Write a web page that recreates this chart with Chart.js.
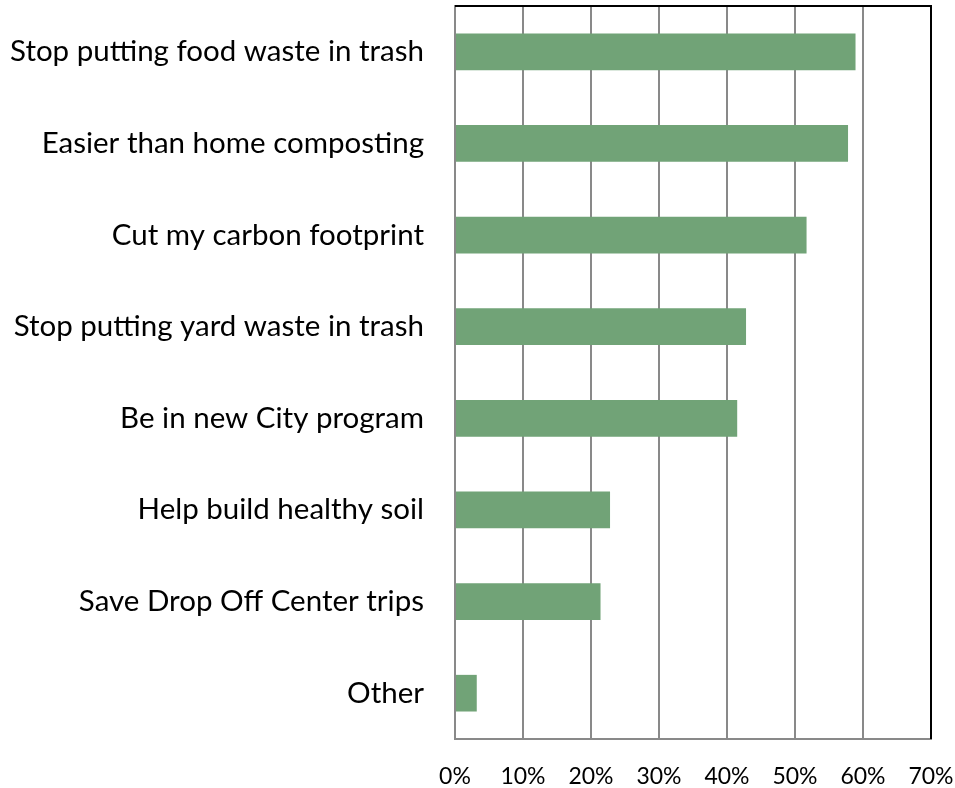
<!DOCTYPE html>
<html>
<head>
<meta charset="utf-8">
<title>Reasons for composting</title>
<script src="https://cdn.jsdelivr.net/npm/chart.js@4.4.1/dist/chart.umd.min.js"></script>
<style>
  html, body { margin: 0; padding: 0; background: #fff; }
  #wrap { width: 955px; height: 788px; position: relative; }
</style>
</head>
<body>
<div id="wrap"><canvas id="myChart"></canvas></div>
<script>
var reasons = [
    'Stop putting food waste in trash',
    'Easier than home composting',
    'Cut my carbon footprint',
    'Stop putting yard waste in trash',
    'Be in new City program',
    'Help build healthy soil',
    'Save Drop Off Center trips',
    'Other'
];
var shares = [58.9, 57.8, 51.7, 42.8, 41.5, 22.8, 21.4, 3.2];
var xTicks = [0, 10, 20, 30, 40, 50, 60, 70];

var gridGray = '#898989';

// black frame line along the top and right of the plot
var frameLines = {
    id: 'frameLines',
    afterDraw: function (chart) {
        var a = chart.chartArea, c = chart.ctx;
        c.save();
        c.strokeStyle = '#000';
        c.lineWidth = 2;
        c.beginPath();
        c.moveTo(a.left, a.top);
        c.lineTo(a.right, a.top);
        c.lineTo(a.right, a.bottom);
        c.stroke();
        c.restore();
    }
};

// no extra room for label overhang, the layout padding handles it
function noOverhang(scale) {
    scale.paddingLeft = 0;
    scale.paddingRight = 0;
    scale.paddingTop = 0;
    scale.paddingBottom = 0;
}

var ctx = document.getElementById('myChart').getContext('2d');
var myChart = new Chart(ctx, {
    type: 'bar',
    data: {
        labels: reasons,
        datasets: [{
            label: 'Share of respondents',
            data: shares,
            backgroundColor: '#71a377',
            borderWidth: 0,
            barPercentage: 0.4,
            categoryPercentage: 1
        }]
    },
    options: {
        indexAxis: 'y',
        responsive: true,
        maintainAspectRatio: false,
        animation: false,
        layout: { padding: { top: 6, right: 24, left: 0, bottom: 0 } },
        plugins: {
            legend: { display: false },
            tooltip: { enabled: false }
        },
        scales: {
            x: {
                min: xTicks[0],
                max: xTicks[xTicks.length - 1],
                afterBuildTicks: function (scale) {
                    scale.ticks = xTicks.map(function (v) { return { value: v }; });
                },
                afterFit: function (scale) {
                    scale.height = 49;
                    noOverhang(scale);
                },
                grid: { color: gridGray, lineWidth: 2, drawTicks: false },
                border: { display: true, color: gridGray, width: 2 },
                ticks: {
                    padding: 24,
                    color: '#000',
                    font: { family: 'Lato', size: 23 },
                    maxRotation: 0,
                    callback: function (v) { return v + '%'; }
                }
            },
            y: {
                afterFit: function (scale) {
                    scale.width = 455;
                    noOverhang(scale);
                },
                grid: { display: false, drawTicks: false },
                border: { display: true, color: gridGray, width: 2 },
                ticks: {
                    padding: 31,
                    color: '#000',
                    font: { family: 'Lato', size: 29.5 }
                }
            }
        }
    },
    plugins: [frameLines]
});
</script>
</body>
</html>
